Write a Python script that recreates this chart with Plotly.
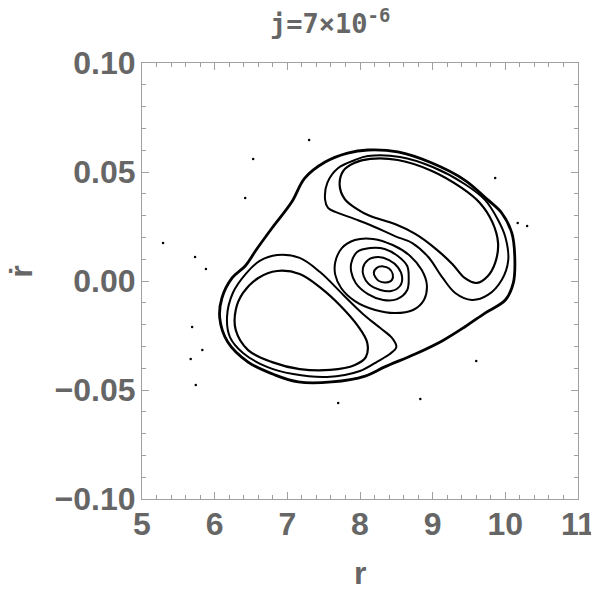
import plotly.graph_objects as go

# Poincaré section, j = 7e-6: r vs r-dot.

# outer chaotic band
outer_r = [6.42, 6.57, 6.79, 7.06, 7.24, 7.52, 7.83, 8.11, 8.52, 8.99, 9.44, 9.76, 9.95,
           10.09, 10.13, 10.11, 10.00, 9.72, 9.44, 9.13, 8.76, 8.34, 8.07, 7.61, 7.15,
           6.83, 6.46, 6.18, 6.07, 6.10, 6.24, 6.42]
outer_rd = [0.0069, 0.0142, 0.0243, 0.0362, 0.0472, 0.0546, 0.0587, 0.0601, 0.0592, 0.0541,
            0.0463, 0.0372, 0.0312, 0.0220, 0.0110, -0.0009, -0.0087, -0.0147, -0.0211,
            -0.0275, -0.0335, -0.0394, -0.0436, -0.0463, -0.0463, -0.0431, -0.0372,
            -0.0280, -0.0170, -0.0078, 0.0014, 0.0069]

# band round the lower-left lobe
low_band_r = [6.86, 7.17, 7.45, 7.77, 8.04, 8.28, 8.44, 8.50, 8.41, 8.25, 8.00, 7.55, 7.08,
              6.72, 6.39, 6.21, 6.17, 6.25, 6.44, 6.62, 6.86]
low_band_rd = [0.0119, 0.0106, 0.0041, -0.0064, -0.0151, -0.0216, -0.0261, -0.0303, -0.0335,
               -0.0367, -0.0413, -0.0440, -0.0427, -0.0394, -0.0330, -0.0257, -0.0165,
               -0.0055, 0.0037, 0.0092, 0.0119]

# inner lower-left lobe
low_lobe_r = [6.60, 6.86, 7.17, 7.48, 7.72, 7.97, 8.10, 8.08, 7.93, 7.59, 7.17, 6.79, 6.46,
              6.29, 6.29, 6.39, 6.60]
low_lobe_rd = [0.0014, 0.0046, 0.0032, -0.0037, -0.0110, -0.0206, -0.0284, -0.0349, -0.0385,
               -0.0408, -0.0404, -0.0372, -0.0317, -0.0225, -0.0133, -0.0055, 0.0014]

# band round the upper-right lobe
up_band_r = [7.52, 7.55, 7.70, 7.93, 8.11, 8.55, 9.00, 9.44, 9.72, 9.90, 10.00, 10.04, 9.95,
             9.76, 9.54, 9.31, 9.13, 8.94, 8.72, 8.48, 8.14, 7.93, 7.66, 7.56, 7.52]
up_band_rd = [0.0372, 0.0450, 0.0518, 0.0555, 0.0573, 0.0569, 0.0523, 0.0445, 0.0372, 0.0280,
              0.0202, 0.0096, 0.0005, -0.0064, -0.0087, -0.0055, 0.0018, 0.0110, 0.0174,
              0.0206, 0.0257, 0.0284, 0.0317, 0.0335, 0.0372]

# inner upper-right lobe
up_lobe_r = [7.72, 7.77, 7.92, 8.14, 8.52, 8.99, 9.40, 9.65, 9.82, 9.90, 9.86, 9.76, 9.61,
             9.44, 9.27, 9.03, 8.76, 8.48, 8.14, 7.96, 7.79, 7.72]
up_lobe_rd = [0.0440, 0.0505, 0.0541, 0.0560, 0.0555, 0.0505, 0.0427, 0.0358, 0.0271, 0.0174,
              0.0083, 0.0023, -0.0009, 0.0014, 0.0078, 0.0151, 0.0216, 0.0261, 0.0298,
              0.0330, 0.0376, 0.0440]

# central islands, outermost to innermost
isl4_r = [7.66, 7.75, 7.93, 8.18, 8.45, 8.69, 8.85, 8.92, 8.88, 8.73, 8.48, 8.21, 7.93, 7.74, 7.66, 7.66]
isl4_rd = [0.0087, 0.0151, 0.0188, 0.0193, 0.0165, 0.0115, 0.0050, -0.0018, -0.0087, -0.0133,
           -0.0147, -0.0133, -0.0092, -0.0032, 0.0028, 0.0087]
isl3_r = [7.88, 7.96, 8.14, 8.34, 8.52, 8.65, 8.67, 8.65, 8.51, 8.32, 8.11, 7.94, 7.88, 7.88]
isl3_rd = [0.0083, 0.0133, 0.0151, 0.0147, 0.0115, 0.0069, 0.0014, -0.0041, -0.0083, -0.0087,
           -0.0060, -0.0009, 0.0041, 0.0083]
isl2_r = [8.04, 8.11, 8.25, 8.40, 8.52, 8.58, 8.55, 8.43, 8.28, 8.12, 8.05, 8.04]
isl2_rd = [0.0060, 0.0096, 0.0110, 0.0096, 0.0064, 0.0018, -0.0023, -0.0046, -0.0041, -0.0014,
           0.0023, 0.0060]
isl1_r = [8.19, 8.23, 8.32, 8.40, 8.45, 8.44, 8.36, 8.26, 8.21, 8.19]
isl1_rd = [0.0037, 0.0060, 0.0067, 0.0057, 0.0032, 0.0005, -0.0007, 0.0000, 0.0018, 0.0037]

# stray escaping points
stray_r = [7.30, 6.53, 6.42, 5.29, 5.73, 5.88, 5.69, 5.83, 5.67, 5.74, 7.70, 8.83, 9.60,
           9.86, 10.17, 10.30]
stray_rd = [0.0647, 0.0560, 0.0381, 0.0174, 0.0110, 0.0055, -0.0211, -0.0317, -0.0358, -0.0477,
            -0.0560, -0.0541, -0.0367, 0.0472, 0.0266, 0.0252]

GREY = "#666666"
FRAME = "#a0a0a0"
FONT = "Liberation Sans, Arial, sans-serif"

curves = [
    (outer_r, outer_rd, 2.8),
    (low_band_r, low_band_rd, 2.0),
    (low_lobe_r, low_lobe_rd, 2.2),
    (up_band_r, up_band_rd, 2.0),
    (up_lobe_r, up_lobe_rd, 2.2),
    (isl4_r, isl4_rd, 2.0),
    (isl3_r, isl3_rd, 2.0),
    (isl2_r, isl2_rd, 2.0),
    (isl1_r, isl1_rd, 2.0),
]

fig = go.Figure()
for xs, ys, w in curves:
    fig.add_trace(go.Scatter(
        x=xs, y=ys, mode="lines",
        line=dict(color="black", width=w, shape="spline", smoothing=1.0),
        hoverinfo="skip", showlegend=False,
    ))
fig.add_trace(go.Scatter(
    x=stray_r, y=stray_rd, mode="markers",
    marker=dict(color="black", size=2.5), showlegend=False,
))

axis_common = dict(
    showgrid=False, zeroline=False, showline=True, linecolor=FRAME, linewidth=1,
    mirror="ticks", ticks="inside", tickcolor=FRAME, ticklen=7, tickwidth=1,
    automargin=False,
    tickfont=dict(family=FONT, size=32, color=GREY, weight="bold"),
)

fig.update_xaxes(range=[5, 11], dtick=1, tick0=5,
                 minor=dict(dtick=0.2, ticks="inside", ticklen=4, tickcolor=FRAME),
                 ticklabelstandoff=-3, **axis_common)
fig.update_yaxes(range=[-0.10, 0.10], dtick=0.05, tick0=0, tickformat=".2f",
                 minor=dict(dtick=0.01, ticks="inside", ticklen=4, tickcolor=FRAME),
                 ticklabelstandoff=-1, **axis_common)

# the page body adds an 8px offset, so the figure is 8px smaller and margins shifted
fig.update_layout(
    width=591, height=586,
    margin=dict(l=134, r=21, t=55, b=95),
    paper_bgcolor="white", plot_bgcolor="white",
    font=dict(family=FONT, color=GREY),
    separators=".\u2212",
    annotations=[
        dict(text="j=7×10<sup>-6</sup>", xref="paper", yref="paper", x=0.29, y=1.095,
             xanchor="left", yanchor="middle", showarrow=False,
             font=dict(family="DejaVu Sans Mono", size=27, color=GREY, weight="bold")),
        dict(text="r", xref="paper", yref="paper", x=0.5, y=-0.17,
             xanchor="center", yanchor="middle", showarrow=False,
             font=dict(family=FONT, size=32, color=GREY, weight="bold")),
        dict(text="r\u0307", xref="paper", yref="paper", x=-0.278, y=0.521,
             xanchor="center", yanchor="middle", showarrow=False, textangle=-90,
             font=dict(family=FONT, size=32, color=GREY, weight="bold")),
    ],
)

fig.write_html("out.html")
